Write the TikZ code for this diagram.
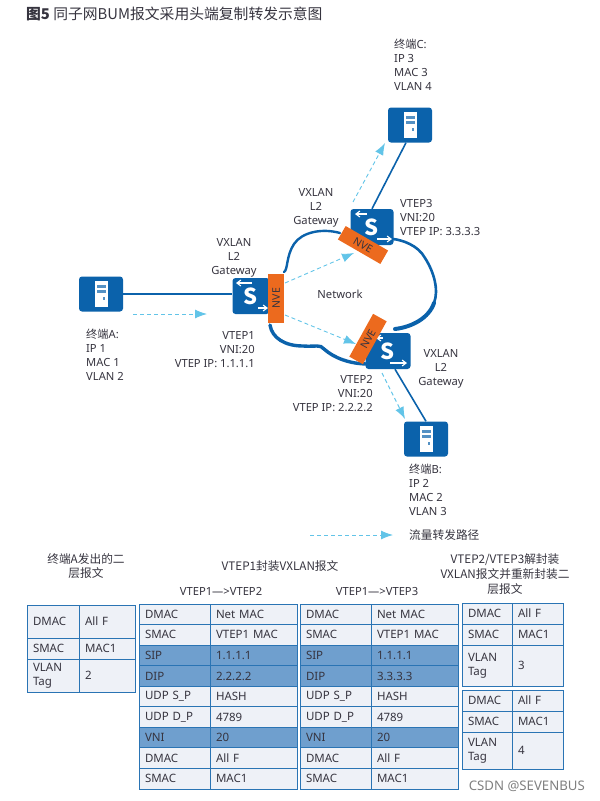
\documentclass[tikz,border=0pt]{standalone}
\usepackage{fontspec}
\setmainfont{Noto Sans}
\newfontfamily\cjk{Noto Sans CJK SC}
\usetikzlibrary{arrows.meta}
\usetikzlibrary{positioning}
\definecolor{hwblue}{HTML}{0B62AB}
\definecolor{nveorange}{HTML}{EC6A1E}
\definecolor{flowblue}{HTML}{62C4E8}
\definecolor{cellgray}{HTML}{EEF1F7}
\definecolor{cellblue}{HTML}{6F9FCE}
\definecolor{cellline}{HTML}{2A74B4}
\definecolor{inktext}{HTML}{36343F}
\tikzset{
    lbl/.style={inner sep=0pt, text=inktext, font=\fontsize{11.2}{14}\selectfont},
    head/.style={inner sep=0pt, text=inktext, font=\cjk\fontsize{11.7}{14.6}\selectfont},
    termbox/.style={fill=hwblue, rounded corners=3pt, minimum width=44pt, minimum height=35pt, inner sep=0pt},
    swbox/.style={fill=hwblue, rounded corners=3pt, minimum width=#1, minimum height=36pt, inner sep=0pt,
        text=white, font=\cjk\fontsize{22}{22}\selectfont\bfseries},
    nvebox/.style={fill=nveorange, minimum width=49pt, minimum height=15.5pt, inner sep=0pt,
        text=inktext, font=\fontsize{10.5}{10.5}\selectfont},
    link/.style={draw=hwblue, line width=1.6pt},
    flow/.style={draw=flowblue, line width=0.9pt, dash pattern=on 4pt off 3pt, -{Latex[length=12pt,width=9pt]}},
    swarrow/.style={draw=white, line width=1.1pt, -{Straight Barb[length=4pt,width=6pt]}},
    pktcell/.style={draw=cellline, line width=0.9pt, fill=cellgray, anchor=north west, outer sep=0pt,
        inner xsep=6pt, inner ysep=0pt, align=left, text=inktext, font=\fontsize{11.5}{14.5}\selectfont},
}
\begin{document}
\begin{tikzpicture}[x=1pt, y=-1pt]
    \useasboundingbox (0, 0) rectangle (600, 801);

    \node[lbl, anchor=west, font=\cjk\fontsize{14.8}{16}\selectfont] (title) at (26, 14) {\textbf{图5} 同子网BUM报文采用头端复制转发示意图};

    % cloud
    \draw[hwblue, line width=2.4pt, line cap=round]
        (284, 272) .. controls (288, 270) and (286, 256) .. (294, 244)
        .. controls (302, 232) and (322, 228) .. (340, 233);
    \draw[hwblue, line width=2.6pt, line cap=round]
        (393, 239) .. controls (402, 240) and (418, 245) .. (425, 258)
        .. controls (434, 272) and (439, 290) .. (434, 303);
    \draw[hwblue, line width=4pt, line cap=round]
        (434, 303) .. controls (429, 318) and (412, 327) .. (395, 329);
    \draw[hwblue, line width=3.4pt, line cap=round]
        (270, 325) .. controls (272, 338) and (285, 346) .. (303, 346)
        .. controls (316, 347) and (320, 344) .. (324, 349)
        .. controls (334, 358) and (350, 364) .. (368, 364);

    % devices
    \node[termbox] (termA) at (101, 294) {};
    \node[termbox] (termC) at (410, 125) {};
    \node[termbox] (termB) at (426, 439) {};
    \foreach \termname in {termA, termB, termC} {
        \fill[white] ([shift={(-6.5,-13)}]\termname.center) rectangle ([shift={(6.5,13)}]\termname.center);
        \fill[hwblue!70] ([shift={(-4.5,-9)}]\termname.center) rectangle ([shift={(4.5,-6)}]\termname.center);
        \fill[hwblue!70] ([shift={(-4.5,-4)}]\termname.center) rectangle ([shift={(4.5,-1)}]\termname.center);
        \fill[hwblue!70] ([shift={(1.5,3)}]\termname.center) rectangle ([shift={(3.5,6)}]\termname.center);
    }
    \node[swbox=37pt] (sw1) at (251, 296) {S};
    \node[swbox=43pt] (sw3) at (372, 227) {S};
    \node[swbox=45pt] (sw2) at (388, 351) {S};

    \draw[link] (termA.east) -- (termA.east -| sw1.west);
    \draw[link] ([xshift=-4pt]termC.south) -- (sw3.north);
    \draw[link] ([xshift=7pt]sw2.south) -- (termB.north);

    \foreach \swname/\ax/\bx/\cx/\dx in {sw1/1/-15/7/17, sw2/-5/-12/2/19, sw3/-5/-17/5/20} {
        \draw[swarrow] ([shift={(\ax,-13)}]\swname.center) -- ([shift={(\bx,-13)}]\swname.center);
        \draw[swarrow] ([shift={(\cx,12)}]\swname.center) -- ([shift={(\dx,12)}]\swname.center);
    }
    \node[nvebox, rotate=90] (nve1) at (276, 298) {NVE};
    \node[nvebox, rotate=-30] (nve3) at (363, 245) {NVE};
    \node[nvebox, rotate=61] (nve2) at (368, 339) {NVE};

    % flows
    \coordinate (flowA1) at (133, 314);
    \coordinate (flowA2) at (207, 314);
    \coordinate (flowN1) at (285, 283);
    \coordinate (flowN2) at (354, 253);
    \coordinate (flowS1) at (285, 315);
    \coordinate (flowS2) at (356, 344);
    \coordinate (flowC1) at (353, 202);
    \coordinate (flowC2) at (385, 143);
    \coordinate (flowB1) at (382, 373);
    \coordinate (flowB2) at (405, 419);
    \coordinate (legend1) at (310, 535);
    \coordinate (legend2) at (393, 535);
    \foreach \flowfrom/\flowto in {flowA1/flowA2, flowN1/flowN2, flowS1/flowS2, flowC1/flowC2, flowB1/flowB2, legend1/legend2} {
        \draw[flow] (\flowfrom) -- (\flowto);
    }

    % labels
    \node[lbl, anchor=north west, align=left] (infoC) at (394, 39) {{\cjk 终端}C:\\IP 3\\MAC 3\\VLAN 4};
    \node[lbl, anchor=north west, align=left] (infoA) at (86, 329) {{\cjk 终端}A:\\IP 1\\MAC 1\\VLAN 2};
    \node[lbl, anchor=north west, align=left] (infoB) at (409, 464) {{\cjk 终端}B:\\IP 2\\MAC 2\\VLAN 3};
    \node[lbl, align=center] (gw1) at (234, 258) {VXLAN\\L2\\Gateway};
    \node[lbl, align=center] (gw3) at (316, 208) {VXLAN\\L2\\Gateway};
    \node[lbl, align=center] (gw2) at (441, 369) {VXLAN\\L2\\Gateway};
    \node[lbl, anchor=north east, align=right] (vtep1) at (255, 331) {VTEP1\\VNI:20\\VTEP IP: 1.1.1.1};
    \node[lbl, anchor=north east, align=right] (vtep2) at (373, 375) {VTEP2\\VNI:20\\VTEP IP: 2.2.2.2};
    \node[lbl, anchor=north west, align=left] (vtep3) at (400, 199) {VTEP3\\VNI:20\\VTEP IP: 3.3.3.3};
    \node[lbl] (cloudname) at (340, 294) {Network};
    \node[head, anchor=west] (legendname) at (409, 535) {流量转发路径};

    % headers
    \node[head, align=center] (headA) at (86, 566) {终端A发出的二\\层报文};
    \node[head] (headV) at (280, 566) {VTEP1封装VXLAN报文};
    \node[lbl] (headB) at (221, 591) {VTEP1—>VTEP2};
    \node[lbl] (headC) at (377, 591) {VTEP1—>VTEP3};
    \node[head, align=center] (headD) at (505, 574) {VTEP2/VTEP3解封装\\VXLAN报文并重新封装二\\层报文};

    % packet tables
    \foreach \tabname/\tabx/\dipval in {tb/139/2.2.2.2, tc/300/3.3.3.3} {
        \foreach \rowno/\lefttext/\righttext/\cellcol in {
            1/DMAC/Net MAC/cellgray, 2/SMAC/VTEP1 MAC/cellgray, 3/SIP/1.1.1.1/cellblue,
            4/DIP/\dipval/cellblue, 5/UDP S\_P/HASH/cellgray, 6/UDP D\_P/4789/cellgray,
            7/VNI/20/cellblue, 8/DMAC/All F/cellgray, 9/SMAC/MAC1/cellgray} {
            \pgfmathsetmacro\rowtop{604+20.55*(\rowno-1)}
            \node[pktcell, fill=\cellcol, text width=59pt, minimum height=20.55pt] (\tabname\rowno l) at (\tabx, \rowtop) {\lefttext};
            \node[pktcell, fill=\cellcol, text width=75pt, minimum height=20.55pt] (\tabname\rowno r) at (\tabname\rowno l.north east) {\righttext};
        }
    }
    \foreach \rowname/\rowtop/\rowh/\lefttext/\righttext in {
        ta1/605/33/DMAC/All F, ta2/638/21/SMAC/MAC1, ta3/659/33/VLAN\\Tag/2} {
        \node[pktcell, text width=40pt, minimum height=\rowh pt] (\rowname l) at (27, \rowtop) {\lefttext};
        \node[pktcell, text width=44pt, minimum height=\rowh pt] (\rowname r) at (\rowname l.north east) {\righttext};
    }
    \foreach \rowname/\rowtop/\rowh/\lefttext/\righttext in {
        td1/603/21/DMAC/All F, td2/624/21/SMAC/MAC1, td3/645/41/VLAN\\Tag/3,
        te1/690/21/DMAC/All F, te2/711/21/SMAC/MAC1, te3/732/37/VLAN\\Tag/4} {
        \node[pktcell, text width=38pt, minimum height=\rowh pt] (\rowname l) at (462, \rowtop) {\lefttext};
        \node[pktcell, text width=39pt, minimum height=\rowh pt] (\rowname r) at (\rowname l.north east) {\righttext};
    }

    \node[lbl, anchor=east, text=black!50, font=\fontsize{13.2}{15}\selectfont] (mark) at (585, 786) {CSDN @SEVENBUS};
\end{tikzpicture}
\end{document}
